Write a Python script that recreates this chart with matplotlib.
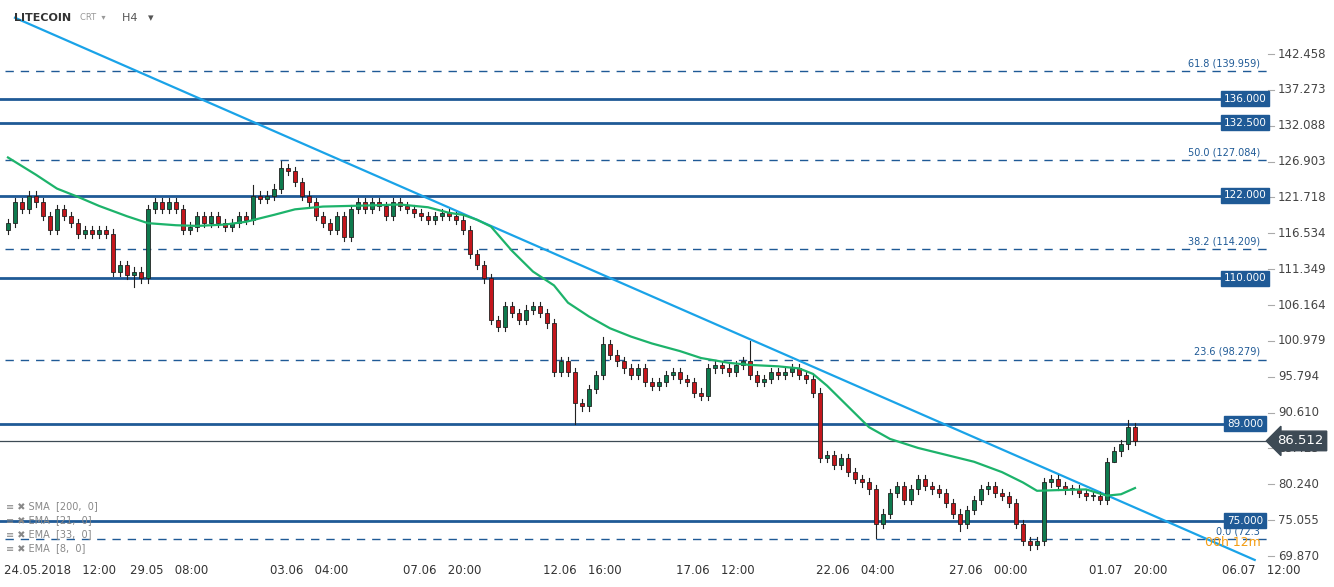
import matplotlib
matplotlib.use("Agg")
import matplotlib.pyplot as plt
from matplotlib.patches import Rectangle

closes = [118,121,120,122,121, 119,117,120,119,118, 116.5,117,116.5,117,116.5,
          111,112,110.5,111,110, 120,121,120,121,120, 117,117.5,119,118,119,
          118,117.5,118,119,118.5, 122,121.5,122,123,126, 125.5,124,122,121,119,
          118,117,119,116,120, 121,120,121,120.5,119, 121,120.5,120,119.5,119,
          118.5,119,119.5,119,118.5, 117,113.5,112,110,104, 103,106,105,104,105.5,
          106,105,103.5,96.5,98, 96.5,92,91.5,94,96, 100.5,99,98,97,96,
          97,95,94.5,95,96, 96.5,95.5,95,93.5,93, 97,97.5,97,96.5,97.5,
          98,96,95,95.5,96.5, 96,96.5,97,96,95.5, 93.5,84,84.5,83,84,
          82,81,80.5,79.5,74.5, 76,79,80,78,79.5, 81,80,79.5,79,77.5,
          76,74.5,76.5,78,79.5, 80,79,78.5,77.5,74.5, 72,71.5,72,80.5,81,
          80,79.5,79.5,79,78.5, 78.5,78,83.5,85,86,88.5,86.5]
first_open = 117
wick_extra_high = {39: 127, 85: 101.5, 106: 101, 160: 89.6, 35: 123.5}
wick_extra_low = {18: 108.8, 81: 89.0, 124: 72.5, 136: 73.5, 146: 70.8, 158: 83.5}

ema_bars = [0,4,7,10,13,17,20,24,27,31,34,38,41,45,49,53,56,60,63,65,67,69,72,75,78,80,83,86,89,92,96,99,103,106,110,113,115,117,120,123,126,130,134,138,142,145,147,150,154,157,159,161]
ema_vals = [127.5,125,123,121.8,120.5,119,118,117.7,117.6,117.8,118.2,119.2,120,120.4,120.5,120.6,120.7,120.3,119.5,119.2,118.5,117.5,114,111,109,106.5,104.5,102.8,101.6,100.6,99.5,98.5,97.8,97.5,97.3,97,96.2,94.5,91.5,88.5,86.8,85.5,84.5,83.5,82,80.5,79.3,79.4,79.5,78.6,78.8,79.7]

trend_bars = [1.0, 178.1]
trend_vals = [147.7, 69.3]

solid_levels = [136.0, 132.5, 122.0, 110.0, 89.0, 75.0]
fib_levels = [139.959, 127.084, 114.209, 98.279, 72.3]
fib_labels = ["61.8 (139.959)", "50.0 (127.084)", "38.2 (114.209)", "23.6 (98.279)", "0.0 (72.3"]
yticks = [142.458,137.273,132.088,126.903,121.718,116.534,111.349,106.164,100.979,95.794,90.610,85.425,80.240,75.055,69.870]
xlabels = ["24.05.2018   12:00","29.05   08:00","03.06   04:00","07.06   20:00","12.06   16:00",
           "17.06   12:00","22.06   04:00","27.06   00:00","01.07   20:00","06.07   12:00"]
xlabel_bars = [7.5,23,43,62,82,101,121,140,160,179]
last_price = 86.512

W, H = 1334, 587
fig = plt.figure(figsize=(W/100, H/100), dpi=100)
ax = fig.add_axes([0, 22/H, 1268/W, 1-22/H])
ax.set_xlim(-1.14, 180)
ax.set_ylim(68.57, 150.27)
for s in ax.spines.values():
    s.set_visible(False)
ax.set_xticks([]); ax.set_yticks([])

blue = "#1f5a96"
for lv in solid_levels:
    ax.axhline(lv, color=blue, lw=2, xmax=1225/1268, zorder=1)
for lv in fib_levels:
    ax.axhline(lv, color=blue, lw=1, ls=(0, (6, 5)), xmin=5/1268, zorder=1)
ax.axhline(last_price, color="#3d4a55", lw=0.9, zorder=1)

ax.plot(trend_bars, trend_vals, color="#1aa3e8", lw=1.6, zorder=2)

opens = [first_open] + closes[:-1]
for i, (o, c) in enumerate(zip(opens, closes)):
    hi = wick_extra_high.get(i, max(o, c) + 0.6)
    lo = wick_extra_low.get(i, min(o, c) - 0.6)
    col = "#0e7a4e" if c >= o else "#c4161c"
    ax.plot([i, i], [lo, hi], color="#222222", lw=0.8, zorder=3)
    ax.add_patch(Rectangle((i - 0.35, min(o, c)), 0.7, max(abs(c - o), 0.15),
                           facecolor=col, edgecolor="#222222", lw=0.6, zorder=4))

ax.plot(ema_bars, ema_vals, color="#1db36b", lw=1.6, zorder=5)

def px2fx(px): return px / W
def py2fy(py): return 1 - py / H
def p2py(p): return 54 + (142.458 - p) * 6.916

for lv in solid_levels:
    fig.text(px2fx(1245), py2fy(p2py(lv)), f"{lv:.3f}", color="white", fontsize=7.5,
             ha="center", va="center",
             bbox=dict(boxstyle="square,pad=0.25", fc=blue, ec=blue))
for lv, lab in zip(fib_levels, fib_labels):
    fig.text(px2fx(1260), py2fy(p2py(lv) - 8), lab, color=blue, fontsize=7, ha="right", va="center")
fig.text(px2fx(1205), py2fy(543), "00h 12m", color="#f39c12", fontsize=9, ha="left", va="center")

for t in yticks:
    y = py2fy(p2py(t))
    fig.text(px2fx(1278), y, f"{t:.3f}", color="#444444", fontsize=8.5, ha="left", va="center")
    fig.add_artist(plt.Line2D([px2fx(1268), px2fx(1274)], [y, y], color="#aaaaaa", lw=0.8))

fig.text(px2fx(1277), py2fy(p2py(last_price)), f"{last_price:.3f}", color="white", fontsize=9.5,
         ha="left", va="center", zorder=10,
         bbox=dict(boxstyle="larrow,pad=0.25", fc="#3d4a55", ec="#3d4a55"))

for b, lab in zip(xlabel_bars, xlabels):
    fx = px2fx(8 + 7 * b)
    fig.text(fx, py2fy(571), lab, color="#333333", fontsize=8.5, ha="center", va="center")

fig.text(px2fx(14), py2fy(18), "LITECOIN", color="#333333", fontsize=8, fontweight="bold", va="center")
fig.text(px2fx(80), py2fy(18), "CRT  \u25be", color="#999999", fontsize=6, va="center")
fig.text(px2fx(122), py2fy(18), "H4   \u25be", color="#555555", fontsize=8, va="center")

for k, lab in enumerate(["SMA  [200,  0]", "EMA  [21,  0]", "EMA  [33,  0]", "EMA  [8,  0]"]):
    fig.text(px2fx(6), py2fy(506 + 14 * k), "\u2261 \u2716 " + lab, color="#888888", fontsize=7, va="center")

fig.savefig("out.png", dpi=100, facecolor="white")
